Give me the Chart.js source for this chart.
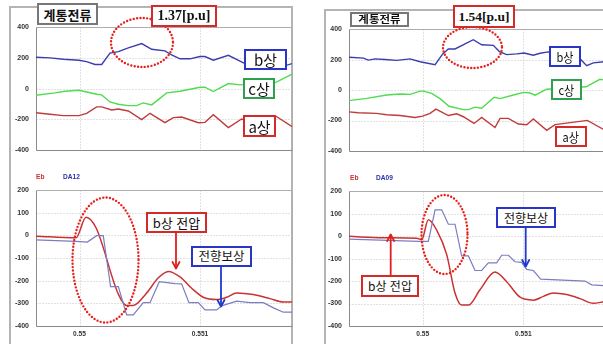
<!DOCTYPE html>
<html lang="ko">
<head>
<meta charset="utf-8">
<title>계통전류 · b상 전압</title>
<script src="https://cdn.jsdelivr.net/npm/chart.js@4/dist/chart.umd.min.js"></script>
<style>
  html, body { margin: 0; padding: 0; background: #fff; }
  body { width: 603px; height: 344px; overflow: hidden; position: relative; }
  canvas { position: absolute; }
  .frame { position: absolute; box-sizing: border-box; border: 2px solid #b4b4b4; }
  .box {
    position: absolute; box-sizing: border-box; background: #fff; border: 2px solid;
    display: flex; align-items: center; justify-content: center; white-space: nowrap;
    color: #111; line-height: 1; font-family: "Noto Sans CJK KR", sans-serif;
  }
  .box span { display: inline-block; }
  .serif { font-family: "Liberation Serif", serif; font-weight: bold; }
  .legend { position: absolute; font: bold 6.6px "Liberation Sans", Arial, sans-serif; line-height: 1; }
  svg { position: absolute; left: 0; top: 0; }
</style>
</head>
<body>
<div class="frame" style="left:9px;top:6px;width:284px;height:400px"></div>
<div class="frame" style="left:324px;top:9px;width:400px;height:400px"></div>

<canvas id="cur1" width="287" height="156" style="left:6px;top:16px"></canvas>
<canvas id="volt1" width="287" height="163" style="left:6px;top:179px"></canvas>
<canvas id="cur2" width="286" height="155" style="left:319px;top:18px"></canvas>
<canvas id="volt2" width="286" height="162" style="left:319px;top:180px"></canvas>

<div class="legend" style="left:36px;top:174px;color:#cc3030">Eb</div>
<div class="legend" style="left:63px;top:174px;color:#3030b0">DA12</div>
<div class="legend" style="left:350px;top:175px;color:#cc3030">Eb</div>
<div class="legend" style="left:376px;top:175px;color:#3030b0">DA09</div>

<svg width="603" height="344">
  <g fill="none" stroke="#e8201c" stroke-width="2.4" stroke-linecap="round" stroke-dasharray="0 3.4">
    <ellipse cx="142" cy="42.5" rx="31" ry="24.5"/>
    <ellipse cx="105.5" cy="260" rx="33" ry="62.5"/>
    <ellipse cx="472.5" cy="47.5" rx="29.5" ry="20.5"/>
    <ellipse cx="444.5" cy="234.5" rx="23" ry="39.5"/>
  </g>
</svg>

<!-- case 1 labels -->
<div class="box" style="left:37px;top:3px;width:61px;height:22px;border-color:#777;font-weight:bold;font-size:13px">계통전류</div>
<div class="box serif" style="left:151px;top:5px;width:66px;height:22px;border-color:#d42a2a;font-size:14px">1.37[p.u]</div>
<div class="box" style="left:244px;top:49px;width:43px;height:21px;border-color:#2a35c8;font-size:15px">b상</div>
<div class="box" style="left:243px;top:78px;width:32px;height:21px;border-color:#2fa04f;font-size:15px">c상</div>
<div class="box" style="left:243px;top:115px;width:33px;height:22px;border-color:#d42a2a;font-size:15px">a상</div>
<div class="box" style="left:146px;top:212px;width:61px;height:21px;border-color:#d42a2a;font-size:13px">b상 전압</div>
<div class="box" style="left:191px;top:246px;width:61px;height:21px;border-color:#2a35c8;font-size:12.5px">전향보상</div>

<!-- case 2 labels -->
<div class="box" style="left:350px;top:12px;width:59px;height:15px;border-color:#777;font-weight:bold;font-size:11.5px"><span style="transform:scaleY(.85)">계통전류</span></div>
<div class="box serif" style="left:453px;top:5px;width:62px;height:23px;border-color:#d42a2a;font-size:13.5px">1.54[p.u]</div>
<div class="box" style="left:549px;top:46px;width:32px;height:21px;border-color:#2a35c8;font-size:13px"><span style="transform:scaleX(.85)">b상</span></div>
<div class="box" style="left:551px;top:79px;width:31px;height:21px;border-color:#2fa04f;font-size:13px"><span style="transform:scaleX(.85)">c상</span></div>
<div class="box" style="left:555px;top:126px;width:32px;height:21px;border-color:#d42a2a;font-size:13px"><span style="transform:scaleX(.85)">a상</span></div>
<div class="box" style="left:496px;top:207px;width:60px;height:21px;border-color:#2a35c8;font-size:12px">전향보상</div>
<div class="box" style="left:361px;top:275px;width:58px;height:22px;border-color:#d42a2a;font-size:12px">b상 전압</div>

<svg width="603" height="344">
  <g fill="none" stroke-width="1.8" stroke-linecap="round" stroke-linejoin="round">
    <g stroke="#e02020">
      <line x1="176" y1="233" x2="176" y2="268"/>
      <polyline points="172.5,262 176,268.5 179.5,262"/>
      <line x1="390.7" y1="275" x2="390.7" y2="235"/>
      <polyline points="387.2,241 390.7,234.5 394.2,241"/>
    </g>
    <g stroke="#2038d0">
      <line x1="221" y1="267" x2="221" y2="306"/>
      <polyline points="217.5,300 221,306.5 224.5,300"/>
      <line x1="525.7" y1="228" x2="525.7" y2="266"/>
      <polyline points="522.2,260 525.7,266.5 529.2,260"/>
    </g>
  </g>
</svg>

<script>
// Time axis in seconds; sample times below are µs offsets from 0.55 s.
const T0 = 0.55;
const timeTicks = [0.55, 0.551];
const timeTickLabels = ['0.55', '0.551'];
const currentTicks = [400, 200, 0, -200, -400];
const voltageTicks = [200, 100, 0, -100, -200, -300, -400];

// ---- Case 1 (DA12) : phase currents ----
const phaseB1T = [-364,-245,-134,-4,59,128,184,253,322,405,516,599,709,764,834,917,1000,1041,1110,1235,1373,1625,1764];
const phaseB1  = [204,200,191,185,176,157,157,231,241,265,293,256,246,219,194,194,209,209,185,217,163,130,163];
const phaseC1T = [-364,-204,-121,-4,59,142,184,253,322,405,474,529,599,723,834,917,1000,1041,1110,1235,1332,1625,1764];
const phaseC1  = [-44,-28,-17,-11,-22,-37,-41,-87,-102,-111,-111,-93,-106,-28,-17,-4,9,9,-19,33,24,39,94];
const phaseA1T = [-364,-245,-134,-4,59,142,184,267,322,405,516,585,709,778,847,986,1041,1110,1235,1345,1484,1630,1764];
const phaseA1  = [-157,-167,-176,-176,-161,-119,-119,-139,-133,-146,-202,-161,-222,-189,-185,-222,-220,-170,-254,-198,-235,-180,-248];

// ---- Case 1 : b-phase voltage Eb and DA12 ----
const eb1T = [-364,-29,54,137,322,391,446,557,654,737,834,930,1027,1138,1221,1304,1442,1580,1691,1764];
const eb1  = [-3,-10,81,34,-259,-309,-309,-254,-187,-159,-183,-233,-273,-283,-273,-254,-261,-279,-294,-294];
const da12T = [-364,-29,65,142,197,258,322,391,446,529,585,662,792,847,908,986,1041,1138,1179,1304,1415,1525,1614,1691,1764];
const da12  = [-19,-26,-29,-1,-1,-226,-226,-351,-351,-297,-297,-204,-213,-214,-297,-297,-329,-329,-311,-290,-297,-297,-321,-339,-339];

// ---- Case 2 (DA09) : phase currents ----
const phaseB2T = [-732,-589,-540,-473,-374,-258,-126,-26,123,199,255,321,503,586,702,762,834,934,1007,1099,1166,1248,1569,1629,1695,1801];
const phaseB2  = [216,210,197,205,201,195,205,186,167,238,270,270,331,298,294,253,233,238,244,229,242,251,201,160,179,186];
const phaseC2T = [-732,-556,-358,-225,-126,-26,7,89,172,262,404,454,520,586,709,768,901,1000,1066,1116,1232,1622,1761,1801];
const phaseC2  = [-69,-54,-32,-26,-28,-7,-7,-22,-56,-106,-128,-128,-112,-119,-47,-56,-32,-15,-19,-33,6,22,71,67];
const phaseA2T = [-732,-639,-457,-358,-225,-76,0,73,132,255,338,404,510,586,718,768,851,950,1033,1099,1232,1314,1636,1801];
const phaseA2  = [-143,-149,-153,-162,-167,-180,-171,-153,-125,-167,-156,-175,-219,-180,-246,-186,-186,-223,-227,-190,-264,-227,-199,-260];

// ---- Case 2 : b-phase voltage Eb and DA09 ----
const eb2T = [-732,-391,-60,-10,56,139,238,321,387,454,569,718,834,967,1099,1199,1298,1430,1563,1695,1801];
const eb2  = [-1,-7,-9,-16,73,27,-81,-253,-307,-307,-239,-160,-203,-272,-285,-268,-253,-260,-278,-299,-292];
const da09T = [-732,-43,56,123,189,255,321,387,454,520,586,652,735,785,851,917,983,1033,1099,1172,1612,1679,1801];
const da09  = [-13,-23,-23,117,117,53,53,-88,-88,-153,-153,-119,-119,-85,-85,-114,-117,-148,-153,-191,-200,-217,-220];

const series = (tUs, vals) => tUs.map((us, i) => ({ x: T0 + us / 1e6, y: vals[i] }));

const COLORS = { b: '#3c3cae', c: '#4fdc4f', a: '#c03c3c', eb: '#c83232', da: '#7c7cc0' };

// dotted grid plus a plain border round the plot area
const panelFrame = {
  id: 'panelFrame',
  beforeDatasetsDraw(chart, args, opts) {
    const { ctx, chartArea: a, scales: { x, y } } = chart;
    const L = Math.round(a.left) + 0.5, R = Math.round(a.right) + 0.5;
    const Tp = Math.round(a.top) + 0.5, B = Math.round(a.bottom) + 0.5;
    ctx.save();
    ctx.lineWidth = 1;
    ctx.strokeStyle = '#c2c2c2';
    ctx.setLineDash([1, 2]);
    ctx.beginPath();
    for (const v of opts.yGrid) {
      const py = Math.round(y.getPixelForValue(v)) + 0.5;
      ctx.moveTo(L, py); ctx.lineTo(R, py);
    }
    for (const v of timeTicks) {
      const px = Math.round(x.getPixelForValue(v)) + 0.5;
      ctx.moveTo(px, Tp); ctx.lineTo(px, B);
    }
    ctx.stroke();
    ctx.setLineDash([]);
    ctx.strokeStyle = '#adadad';
    ctx.beginPath();
    ctx.moveTo(L, Tp); ctx.lineTo(R, Tp); ctx.lineTo(R, B);
    ctx.stroke();
    ctx.strokeStyle = '#8a8a8a';
    ctx.beginPath();
    ctx.moveTo(L, Tp); ctx.lineTo(L, B); ctx.lineTo(R, B);
    ctx.stroke();
    ctx.restore();
  }
};

function makeChart(id, cfg) {
  return new Chart(document.getElementById(id), {
    type: 'line',
    data: {
      datasets: cfg.lines.map(d => ({
        data: series(d.t, d.v),
        borderColor: d.color,
        borderWidth: d.width,
        pointRadius: 0,
        fill: false,
        tension: 0,
        cubicInterpolationMode: d.smooth ? 'monotone' : 'default'
      }))
    },
    options: {
      responsive: false,
      animation: false,
      devicePixelRatio: 1,
      events: [],
      layout: { padding: { top: 6, right: 1, bottom: cfg.showTime ? 0 : 6, left: 0 } },
      plugins: {
        legend: { display: false },
        tooltip: { enabled: false },
        panelFrame: { yGrid: cfg.grid }
      },
      scales: {
        x: {
          type: 'linear',
          min: cfg.xMin, max: cfg.xMax,
          display: cfg.showTime,
          grid: { display: false, drawTicks: false },
          border: { display: false },
          afterBuildTicks: s => { s.ticks = timeTicks.map(v => ({ value: v })); },
          afterFit: s => { s.height = 16; },
          ticks: {
            autoSkip: false, maxRotation: 0, minRotation: 0, padding: 4,
            color: '#333', font: { family: 'Liberation Sans', size: 6.6, weight: 'bold' },
            callback: (v, i) => timeTickLabels[i]
          }
        },
        y: {
          type: 'linear',
          min: cfg.ticks[cfg.ticks.length - 1], max: cfg.ticks[0],
          grid: { display: false, drawTicks: false },
          border: { display: false },
          afterBuildTicks: s => { s.ticks = cfg.ticks.map(v => ({ value: v })); },
          afterFit: s => { s.width = 30; },
          ticks: {
            padding: 7, color: '#333',
            font: { family: 'Liberation Sans', size: 7, weight: 'bold' },
            callback: v => String(v)
          }
        }
      }
    },
    plugins: [panelFrame]
  });
}

const range1 = { xMin: 0.549639, xMax: 0.551763 };
const range2 = { xMin: 0.549268, xMax: 0.551801 };

makeChart('cur1', {
  ...range1, showTime: false, ticks: currentTicks, grid: [200, 0, -200],
  lines: [
    { t: phaseA1T, v: phaseA1, color: COLORS.a, width: 1.4 },
    { t: phaseC1T, v: phaseC1, color: COLORS.c, width: 1.4 },
    { t: phaseB1T, v: phaseB1, color: COLORS.b, width: 1.4 }
  ]
});
makeChart('volt1', {
  ...range1, showTime: true, ticks: voltageTicks, grid: [100, 0, -100, -200, -300],
  lines: [
    { t: da12T, v: da12, color: COLORS.da, width: 1.2 },
    { t: eb1T, v: eb1, color: COLORS.eb, width: 1.5, smooth: true }
  ]
});
makeChart('cur2', {
  ...range2, showTime: false, ticks: currentTicks, grid: [200, 0, -200],
  lines: [
    { t: phaseA2T, v: phaseA2, color: COLORS.a, width: 1.4 },
    { t: phaseC2T, v: phaseC2, color: COLORS.c, width: 1.4 },
    { t: phaseB2T, v: phaseB2, color: COLORS.b, width: 1.4 }
  ]
});
makeChart('volt2', {
  ...range2, showTime: true, ticks: voltageTicks, grid: [100, 0, -100, -200, -300],
  lines: [
    { t: da09T, v: da09, color: COLORS.da, width: 1.2 },
    { t: eb2T, v: eb2, color: COLORS.eb, width: 1.5, smooth: true }
  ]
});
</script>
</body>
</html>
